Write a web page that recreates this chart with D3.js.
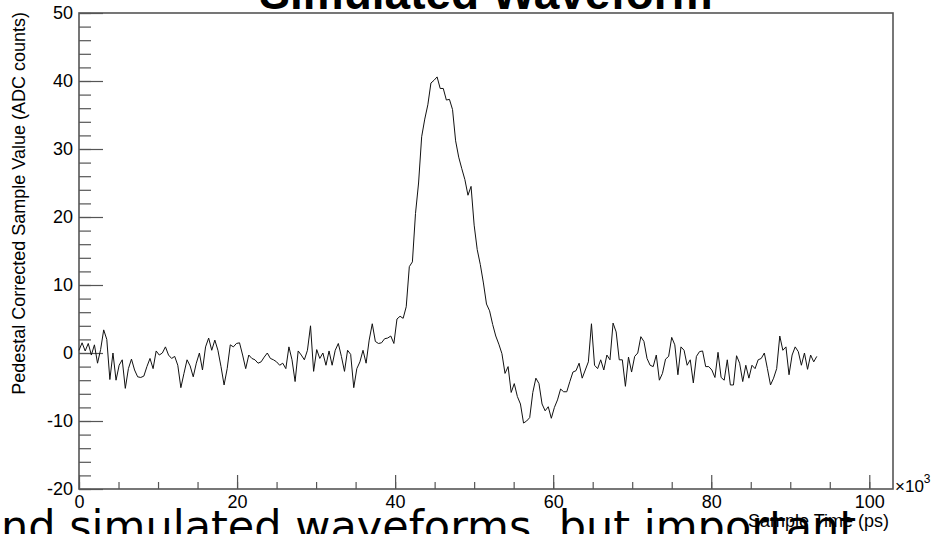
<!DOCTYPE html>
<html>
<head>
<meta charset="utf-8">
<script src="https://cdn.jsdelivr.net/npm/d3@7"></script>
<style>
  html, body { margin: 0; padding: 0; background: #fff; overflow: hidden; }
  svg { display: block; }
  text { font-family: "Liberation Sans", Arial, Helvetica, sans-serif; }
</style>
</head>
<body>
<svg id="chart" width="937" height="534"></svg>
<script>
// Pedestal-corrected ADC samples of the simulated pulse (one value per sample)
const sampleValues = [
  0.4, 1.5, 0.3, 1.4, -0.3, 1.2, -1.5, 0.5, 3.4, 2.0,
  -3.9, 0.0, -4.0, -1.8, -1.0, -5.2, -2.3, -0.9, -2.5, -3.5,
  -3.6, -3.4, -2.0, -0.8, -2.3, 0.3, -0.3, 0.0, 0.9, -0.3,
  -0.8, -0.5, -1.8, -5.1, -3.0, -1.0, -1.9, -3.5, -1.5, 0.0,
  -2.5, 0.9, 2.2, 0.4, 1.9, 0.4, -2.0, -4.7, -2.3, 1.2,
  0.9, 1.4, 1.5, -0.3, -2.3, -0.3, -0.8, -1.0, -1.5, -1.3,
  -0.6, 0.0, -0.8, -1.0, -1.3, -1.8, -1.5, -2.3, 0.9, -1.0,
  -4.2, 0.3, -0.3, -1.0, 0.4, 4.0, -2.7, 0.5, -0.8, 0.0,
  -1.8, 0.3, -1.8, 0.4, 1.4, -0.5, -2.7, 0.4, -0.2, -5.1,
  -2.3, -1.3, 0.4, -1.5, 1.9, 4.3, 1.7, 1.4, 1.5, 2.1,
  2.2, 2.5, 1.4, 5.0, 5.4, 5.1, 6.8, 12.7, 13.4, 20.5,
  25.0, 31.8, 34.4, 36.5, 39.7, 40.1, 40.6, 38.9, 38.9, 37.2,
  37.3, 35.8, 31.2, 28.8, 27.1, 25.5, 23.2, 24.5, 18.8, 15.2,
  13.0, 10.3, 7.2, 6.2, 4.2, 2.5, 1.3, -0.1, -3.0, -2.0,
  -5.8, -4.5, -6.4, -7.5, -10.3, -10.0, -9.5, -5.8, -3.7, -4.5,
  -7.5, -8.5, -7.9, -9.6, -8.0, -6.9, -5.3, -5.7, -5.7, -4.2,
  -2.8, -2.6, -1.5, -3.7, -2.5, -1.3, 4.3, -1.8, -2.3, -1.0,
  -2.5, -0.3, -1.0, 4.4, 3.1, -1.0, -1.0, -4.9, -0.6, -2.8,
  -0.5, 0.0, 2.4, 1.7, -0.8, -1.8, -2.0, -0.3, -4.0, -3.0,
  -0.9, -0.5, 2.3, 1.2, -3.2, 0.9, 0.4, -1.8, -1.0, -4.4,
  -0.5, 0.2, 0.3, -2.0, -2.0, -2.5, -3.6, 0.1, -3.6, -4.0,
  -1.0, -4.7, -4.7, -0.4, -1.5, -4.2, -1.8, -3.7, -1.8, -2.3,
  -1.0, -0.8, 0.0, -2.3, -4.7, -3.7, -2.3, 2.5, 0.4, 0.9,
  -3.2, -0.3, 0.9, 0.2, -1.8, 0.0, -2.4, -0.3, -1.3, -0.5
];
// Sampling period in units of 10^3 ps (2.56 GS/s)
const samplePeriod = 0.390625;

// Axis ranges and tick values
const xDomain = [0, 103];
const yDomain = [-20, 50];
const xMajorTicks = [0, 20, 40, 60, 80, 100];
const xMinorTicks = d3.range(0, 101, 5);
const yMajorTicks = [-20, -10, 0, 10, 20, 30, 40, 50];
const yMinorTicks = d3.range(-20, 51, 2);

const titleText = "Simulated Waveform";
const xTitle = "Sample Time (ps)";
const yTitle = "Pedestal Corrected Sample Value (ADC counts)";
const footerText = "nd simulated waveforms, but important";

const frame = { left: 79, right: 893, top: 13, bottom: 489 };
const svg = d3.select("#chart");

const x = d3.scaleLinear().domain(xDomain).range([frame.left, frame.right]);
const y = d3.scaleLinear().domain(yDomain).range([frame.bottom, frame.top]);

const axisColor = "#555";
const labelSize = 18;
const plainInt = d => String(d);   // hyphen-minus for negative labels

// Minor ticks (inside the frame)
const gxMinor = svg.append("g").attr("transform", `translate(0,${frame.bottom})`)
  .call(d3.axisBottom(x).tickValues(xMinorTicks).tickSize(-7).tickFormat(""));
const gyMinor = svg.append("g").attr("transform", `translate(${frame.left},0)`)
  .call(d3.axisLeft(y).tickValues(yMinorTicks).tickSize(-12).tickFormat(""));

// Major ticks with labels
const gx = svg.append("g").attr("transform", `translate(0,${frame.bottom})`)
  .call(d3.axisBottom(x).tickValues(xMajorTicks).tickSize(-14).tickPadding(6).tickFormat(plainInt));
const gy = svg.append("g").attr("transform", `translate(${frame.left},0)`)
  .call(d3.axisLeft(y).tickValues(yMajorTicks).tickSize(-24).tickPadding(6).tickFormat(plainInt));

[gxMinor, gyMinor, gx, gy].forEach(g => {
  g.select(".domain").remove();
  g.selectAll(".tick line").attr("stroke", axisColor).attr("stroke-width", 1.2);
  g.selectAll(".tick text")
    .attr("fill", "#000")
    .style("font-size", labelSize + "px")
    .style("font-family", "'Liberation Sans', Arial, Helvetica, sans-serif");
});

// Plot frame
svg.append("rect")
  .attr("x", frame.left).attr("y", frame.top)
  .attr("width", frame.right - frame.left).attr("height", frame.bottom - frame.top)
  .attr("fill", "none").attr("stroke", axisColor).attr("stroke-width", 1.6);

// Waveform
const line = d3.line()
  .x((d, i) => x(i * samplePeriod))
  .y(d => y(d));
svg.append("path")
  .datum(sampleValues)
  .attr("d", line)
  .attr("fill", "none")
  .attr("stroke", "#111")
  .attr("stroke-width", 1)
  .attr("stroke-linejoin", "round");

// Exponent marker of the x axis
const expo = svg.append("text")
  .attr("x", frame.right + 2).attr("y", frame.bottom + 3)
  .style("font-size", "17px");
expo.append("tspan").text("\u00d710");
expo.append("tspan").attr("dy", -9).style("font-size", "12px").text("3");

// Axis titles
svg.append("text")
  .attr("x", frame.right - 4).attr("y", 527)
  .attr("text-anchor", "end")
  .style("font-size", "18px")
  .text(xTitle);

svg.append("text")
  .attr("transform", `translate(25,${frame.top - 1}) rotate(-90)`)
  .attr("text-anchor", "end")
  .style("font-size", "18px")
  .text(yTitle);

// Title (clipped by the top edge)
svg.append("text")
  .attr("x", (frame.left + frame.right) / 2).attr("y", 9)
  .attr("text-anchor", "middle")
  .style("font-size", "46px")
  .style("font-weight", "bold")
  .text(titleText);

// Caption text running along the bottom edge
svg.append("text")
  .attr("x", 1).attr("y", 541)
  .style("font-size", "43px")
  .style("font-family", "'DejaVu Sans', sans-serif")
  .text(footerText);
</script>
</body>
</html>
